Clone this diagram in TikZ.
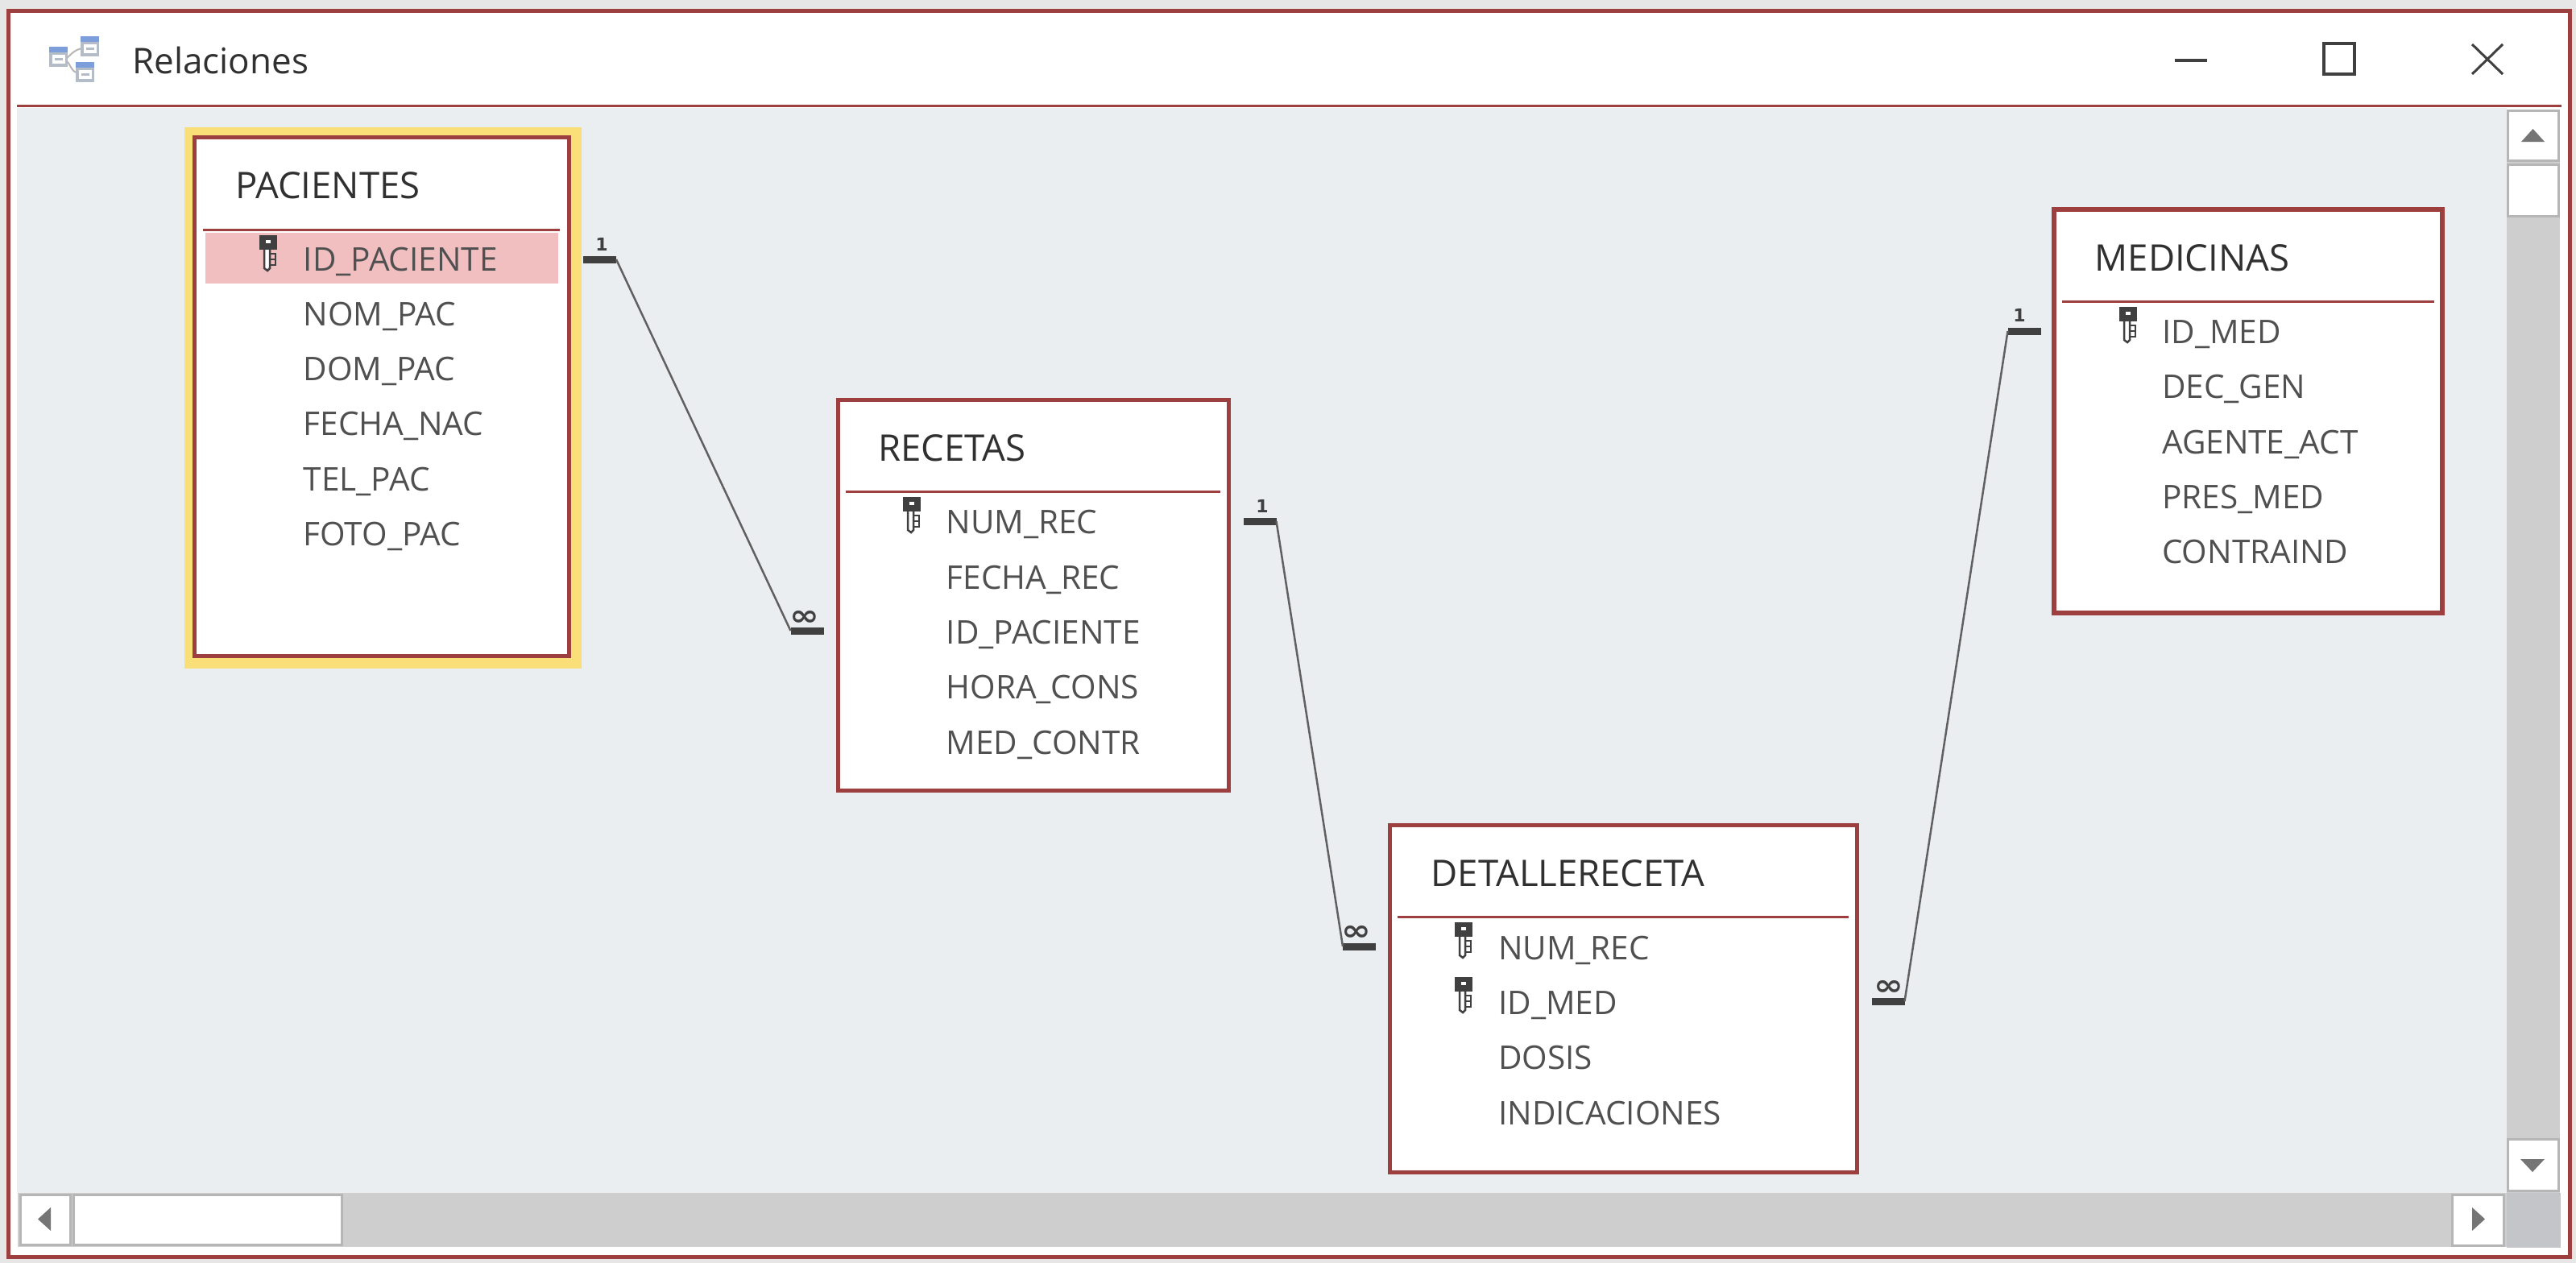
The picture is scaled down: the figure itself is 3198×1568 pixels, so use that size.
\documentclass[tikz,border=0pt]{standalone}
\usepackage{fontspec}
\setmainfont{Open Sans}
\newfontfamily\markfont{DejaVu Sans}[BoldFont={DejaVu Sans Bold}]
\definecolor{frameRed}{HTML}{9E3F3F}
\definecolor{glowYellow}{HTML}{FADF78}
\definecolor{paneGray}{HTML}{EAEEF1}
\definecolor{pageGray}{HTML}{E6E6E6}
\definecolor{troughGray}{HTML}{CECECE}
\definecolor{edgeGray}{HTML}{B6B6B6}
\definecolor{cornerGray}{HTML}{C4C5C9}
\definecolor{arrowGray}{HTML}{757575}
\definecolor{markDark}{HTML}{404040}
\definecolor{rowText}{HTML}{505050}
\definecolor{lineGray}{HTML}{606060}
\definecolor{titleText}{HTML}{303030}
\definecolor{rowPink}{HTML}{F2BFC1}
\definecolor{iconBlue}{HTML}{7C9FDC}
\definecolor{iconGray}{HTML}{B4BCC8}
\tikzset{
  tablebox/.style={draw=frameRed, line width=5.5pt, fill=white, rectangle, inner sep=0pt, outer sep=0pt, anchor=north west},
  tabletitle/.style={font=\fontsize{45.5}{45.5}\selectfont, text=titleText, inner sep=0pt, anchor=base west},
  rowlabel/.style={font=\fontsize{40.5}{40.5}\selectfont, text=rowText, inner sep=0pt, anchor=base west},
  relbar/.style={fill=markDark, rectangle, inner sep=0pt, outer sep=0pt, minimum width=41pt, minimum height=9pt},
  onemark/.style={font=\markfont\bfseries\fontsize{22}{22}\selectfont, text=markDark, inner sep=0pt},
  manymark/.style={font=\markfont\bfseries\fontsize{42}{42}\selectfont, text=markDark, inner sep=0pt},
  relline/.style={draw=lineGray, line width=2.5pt},
  seprule/.style={draw=frameRed, line width=3pt},
  scrollbtn/.style={draw=edgeGray, line width=3pt, fill=white},
  keyicon/.pic={
    \fill[markDark] (0,0) rectangle (22,18);
    \fill[white] (8,6) rectangle (14,10);
    \draw[markDark, line width=2.5pt, fill=white] (6,18) -- (6,41) -- (10,44) -- (13,41) -- (13,18);
    \draw[markDark, line width=2.5pt] (13,23) -- (21,23) (13,30) -- (19,30) (13,37) -- (21,37) (20,23) -- (20,37);
  },
  smalltable/.pic={
    \fill[iconGray] (0,0) rectangle (23,25);
    \fill[iconBlue] (0,0) rectangle (23,7);
    \fill[white] (4,10) rectangle (20,21);
    \fill[iconGray] (7,14) rectangle (17,17);
  }
}

\begin{document}
\begin{tikzpicture}[x=1pt, y=-1pt]
    \useasboundingbox (0,0) rectangle (3198,1568);
    \fill[pageGray] (0,0) rectangle (3198,1568);

    % window
    \draw[draw=frameRed, line width=5pt, fill=white] (10.5,13.5) rectangle (3190.5,1560.5);
    \fill[paneGray] (21,134) rectangle (3112,1481);
    \draw[seprule] (21,132) -- (3180,132);

    % title bar
    \draw[edgeGray, line width=2pt] (82,73) .. controls (90,66) and (92,62) .. (102,60);
    \draw[edgeGray, line width=2pt] (82,75) .. controls (88,80) and (88,88) .. (95,90);
    \pic at (100,45) {smalltable};
    \pic at (61,58) {smalltable};
    \pic at (94,77) {smalltable};
    \node[font=\fontsize{44}{44}\selectfont, text=titleText, inner sep=0pt, anchor=base west] (winTitle) at (164,92) {Relaciones};
    \draw[markDark, line width=4pt] (2700,75) -- (2740,75);
    \draw[markDark, line width=3.5pt] (2885,54) rectangle (2923,92);
    \draw[markDark, line width=3pt] (3069,55) -- (3107,92) (3107,55) -- (3069,92);

    % scroll bars
    \fill[troughGray] (3112,136) rectangle (3178,1481);
    \fill[troughGray] (22,1481) rectangle (3112,1548);
    \fill[cornerGray] (3112,1481) rectangle (3179,1549);
    \draw[scrollbtn] (3113.5,138) rectangle (3176,199);
    \draw[scrollbtn] (3113.5,204) rectangle (3176,268);
    \draw[scrollbtn] (3113.5,1414) rectangle (3176,1478);
    \draw[scrollbtn] (25,1483) rectangle (87,1545);
    \draw[scrollbtn] (91,1483) rectangle (424,1545);
    \draw[scrollbtn] (3044,1483) rectangle (3108,1546);
    \fill[arrowGray] (3130,176) -- (3159,176) -- (3144.5,160) -- cycle;
    \fill[arrowGray] (3129,1439) -- (3159,1439) -- (3144,1455) -- cycle;
    \fill[arrowGray] (63,1499) -- (63,1528) -- (47,1513.5) -- cycle;
    \fill[arrowGray] (3069,1499) -- (3069,1528) -- (3085,1513.5) -- cycle;

    % PACIENTES
    \fill[glowYellow] (229,158) rectangle (722,830);
    \node[tablebox, minimum width=465pt, minimum height=644pt] (pacientes) at (241.5,170.5) {};
    \node[tabletitle] (pacTitle) at (292,246.5) {PACIENTES};
    \draw[seprule] (252,285) -- (695,285);
    \fill[rowPink] (255,289) rectangle (693,352);
    \pic at (322,292) {keyicon};
    \node[rowlabel] (pacId) at (376.5,336) {ID\_PACIENTE};
    \node[rowlabel] (pacNom) at (376.5,404) {NOM\_PAC};
    \node[rowlabel] (pacDom) at (376.5,472.5) {DOM\_PAC};
    \node[rowlabel] (pacFecha) at (376.5,540.5) {FECHA\_NAC};
    \node[rowlabel] (pacTel) at (376.5,609) {TEL\_PAC};
    \node[rowlabel] (pacFoto) at (376.5,677.5) {FOTO\_PAC};

    % RECETAS
    \node[tablebox, minimum width=485pt, minimum height=485pt] (recetas) at (1040.5,496.5) {};
    \node[tabletitle] (recTitle) at (1090,572.5) {RECETAS};
    \draw[seprule] (1050,610) -- (1515,610);
    \pic at (1121,617) {keyicon};
    \node[rowlabel] (recNum) at (1174.5,662.5) {NUM\_REC};
    \node[rowlabel] (recFecha) at (1174.5,731) {FECHA\_REC};
    \node[rowlabel] (recId) at (1174.5,799.5) {ID\_PACIENTE};
    \node[rowlabel] (recHora) at (1174.5,867.5) {HORA\_CONS};
    \node[rowlabel] (recMed) at (1174.5,936) {MED\_CONTR};

    % DETALLERECETA
    \node[tablebox, minimum width=580pt, minimum height=431pt] (detalle) at (1725.5,1024.5) {};
    \node[tabletitle] (detTitle) at (1776.5,1100.5) {DETALLERECETA};
    \draw[seprule] (1735,1138) -- (2295,1138);
    \pic at (1806,1145) {keyicon};
    \pic at (1806,1213) {keyicon};
    \node[rowlabel] (detNum) at (1860,1191) {NUM\_REC};
    \node[rowlabel] (detMed) at (1860,1259.5) {ID\_MED};
    \node[rowlabel] (detDosis) at (1860,1327.5) {DOSIS};
    \node[rowlabel] (detInd) at (1860,1396) {INDICACIONES};

    % MEDICINAS
    \node[tablebox, minimum width=482pt, minimum height=501pt] (medicinas) at (2550,260) {};
    \node[tabletitle] (medTitle) at (2600.5,336.5) {MEDICINAS};
    \draw[seprule] (2560,374) -- (3022,374);
    \pic at (2631,381) {keyicon};
    \node[rowlabel] (medId) at (2684,426) {ID\_MED};
    \node[rowlabel] (medDec) at (2684,494.5) {DEC\_GEN};
    \node[rowlabel] (medAgente) at (2684,563) {AGENTE\_ACT};
    \node[rowlabel] (medPres) at (2684,631) {PRES\_MED};
    \node[rowlabel] (medContra) at (2684,699.5) {CONTRAIND};

    % relaciones
    \node[relbar] (pacBar) at (744.5,322) {};
    \node[relbar] (recMany) at (1002,783) {};
    \node[relbar] (recBar) at (1564,647) {};
    \node[relbar] (detMany) at (1687.5,1175) {};
    \node[relbar] (detManyB) at (2344,1243) {};
    \node[relbar] (medBar) at (2513,411) {};
    \node[onemark] (pacOne) at (747,303) {1};
    \node[manymark] (recInf) at (999,767) {\scalebox{1.05}[0.85]{∞}};
    \node[onemark] (recOne) at (1567,628) {1};
    \node[manymark] (detInf) at (1684,1158) {\scalebox{1.05}[0.85]{∞}};
    \node[manymark] (detInfB) at (2345,1226) {\scalebox{1.05}[0.85]{∞}};
    \node[onemark] (medOne) at (2507,391) {1};

    \draw[relline] (pacBar.east) -- (recMany.west);
    \draw[relline] (recBar.east) -- (detMany.west);
    \draw[relline] (detManyB.east) -- (medBar.west);
\end{tikzpicture}
\end{document}
